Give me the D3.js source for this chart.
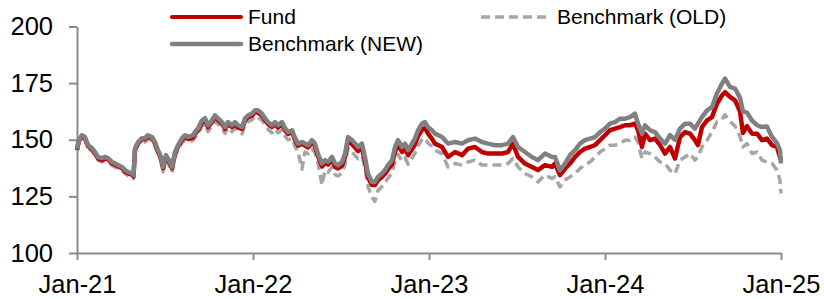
<!DOCTYPE html>
<html><head><meta charset="utf-8">
<script src="https://cdn.jsdelivr.net/npm/d3@7"></script>
<style>
body{margin:0;background:#fff;}
svg{display:block;font-family:"Liberation Sans",Arial,sans-serif;}
</style>
</head><body>
<svg id="c" width="824" height="299"></svg>
<script>
// Time in decimal years
const dates = [
2021.000,2021.011,2021.028,2021.045,2021.063,2021.085,2021.102,2021.119,2021.142,2021.159,
2021.176,2021.199,2021.216,2021.233,2021.256,2021.273,2021.290,2021.313,2021.321,2021.330,
2021.347,2021.369,2021.386,2021.403,2021.426,2021.443,2021.460,2021.477,2021.489,2021.506,
2021.528,2021.540,2021.557,2021.574,2021.597,2021.614,2021.631,2021.659,2021.670,2021.688,
2021.710,2021.727,2021.744,2021.767,2021.784,2021.801,2021.824,2021.841,2021.858,2021.881,
2021.898,2021.915,2021.938,2021.955,2021.972,2021.994,2022.011,2022.028,2022.051,2022.068,
2022.085,2022.108,2022.125,2022.142,2022.165,2022.182,2022.199,2022.222,2022.239,2022.256,
2022.278,2022.295,2022.313,2022.335,2022.352,2022.369,2022.392,2022.409,2022.426,2022.449,
2022.466,2022.483,2022.506,2022.523,2022.540,2022.563,2022.580,2022.597,2022.619,2022.636,
2022.653,2022.676,2022.693,2022.710,2022.733,2022.750,2022.767,2022.790,2022.807,2022.824,
2022.847,2022.864,2022.881,2022.903,2022.920,2022.938,2022.960,2022.977,2022.994,2023.017,
2023.034,2023.074,2023.108,2023.148,2023.188,2023.222,2023.261,2023.301,2023.335,2023.375,
2023.415,2023.449,2023.477,2023.506,2023.545,2023.585,2023.619,2023.659,2023.699,2023.716,
2023.744,2023.773,2023.801,2023.830,2023.858,2023.886,2023.915,2023.943,2023.972,2024.000,
2024.028,2024.057,2024.085,2024.114,2024.142,2024.170,2024.188,2024.210,2024.227,2024.256,
2024.284,2024.313,2024.341,2024.369,2024.398,2024.426,2024.455,2024.483,2024.511,2024.528,
2024.551,2024.580,2024.608,2024.636,2024.665,2024.682,2024.710,2024.739,2024.767,2024.784,
2024.807,2024.835,2024.864,2024.892,2024.920,2024.949,2024.977,2024.994,2025.000
];

const benchNew = [
146.0,150.0,152.0,151.2,147.6,146.3,144.6,142.4,141.9,142.4,
141.9,140.2,139.6,138.8,138.0,136.6,135.8,135.1,134.4,146.3,
149.0,150.7,150.7,152.0,151.2,149.0,145.4,142.4,138.0,143.2,
140.2,138.0,144.6,147.6,150.7,152.0,151.2,152.0,153.4,155.1,
158.6,159.5,156.4,158.6,160.8,159.5,157.8,155.6,157.8,156.4,
157.8,156.4,155.6,159.5,160.8,161.5,163.0,163.0,161.5,159.5,
157.8,156.4,157.8,156.4,157.8,155.1,153.4,154.2,150.7,148.3,
149.0,148.3,147.6,149.8,148.3,143.9,139.5,141.0,140.2,142.4,
139.5,138.8,140.2,143.9,151.2,149.8,148.3,146.8,148.3,142.4,
135.1,131.4,131.4,133.6,135.1,136.6,138.8,141.0,146.8,149.8,
146.8,148.3,145.4,148.3,150.5,154.2,157.1,157.8,155.6,154.2,
152.7,151.2,148.3,149.0,148.3,149.8,150.5,149.0,148.3,147.6,
147.6,148.3,151.2,146.8,144.6,142.4,141.0,143.9,142.4,142.4,
136.6,139.5,143.2,145.4,148.3,149.8,150.5,151.2,153.4,154.9,
157.1,157.8,159.3,159.3,160.0,161.5,157.1,152.7,156.4,154.2,
153.4,150.5,148.3,152.0,150.0,154.9,157.1,157.1,154.9,157.1,
160.0,163.0,164.4,170.4,174.8,177.0,173.3,172.6,168.5,162.5,
162.0,158.5,156.4,155.6,155.8,151.2,148.5,145.4,139.5
];

const fund = [
145.6,149.6,151.5,150.7,147.1,145.8,144.0,141.8,141.0,141.8,
141.3,139.6,139.0,138.2,137.4,136.0,135.2,134.5,133.8,145.8,
148.5,150.2,150.2,151.5,150.6,148.4,144.8,141.8,137.4,142.6,
139.6,137.4,144.0,147.0,150.0,151.3,150.3,151.0,152.6,154.2,
157.6,158.6,155.6,157.8,160.0,158.8,157.0,154.8,157.0,155.6,
157.0,155.4,154.8,158.7,160.0,160.6,162.2,162.0,160.7,158.7,
157.0,155.6,157.0,155.4,157.0,154.2,152.6,153.4,149.8,147.4,
148.2,147.4,146.6,148.8,147.3,142.8,138.2,139.8,139.0,141.2,
138.0,137.3,138.6,142.4,149.8,148.0,146.6,145.0,146.4,140.6,
133.4,130.0,130.0,132.2,133.6,135.0,137.0,139.2,144.8,147.8,
144.6,146.0,143.2,145.8,148.0,151.6,154.4,155.2,152.8,150.4,
148.3,146.8,142.4,144.6,143.2,146.1,146.8,144.6,143.9,143.9,
143.9,144.6,148.3,142.4,139.5,138.0,136.6,138.8,138.0,139.5,
134.4,137.3,139.5,142.4,144.6,146.1,146.8,147.6,149.8,152.0,
154.2,154.9,155.6,156.4,156.4,157.1,154.2,146.8,152.7,149.8,
150.5,147.6,143.9,146.8,141.7,151.2,153.4,152.7,149.8,147.6,
155.6,158.6,160.0,165.9,169.6,171.0,168.9,167.4,162.5,153.0,
156.0,152.7,152.7,149.8,150.5,147.6,146.8,142.4,141.0
];

const benchOld = [
145.2,149.2,151.0,150.0,146.4,145.0,143.3,141.0,140.2,140.8,
140.3,138.6,138.0,137.2,136.4,135.0,134.2,133.5,132.8,145.0,
147.6,149.2,149.0,150.4,149.4,147.2,143.6,140.5,135.8,141.2,
138.0,135.6,142.6,145.6,148.6,150.0,149.0,149.6,151.0,152.6,
156.0,157.0,153.6,156.0,158.2,157.0,155.0,152.8,155.2,153.6,
155.0,153.4,152.6,156.8,158.0,158.8,160.4,160.0,158.6,156.4,
154.6,153.0,154.8,153.0,154.4,151.6,150.0,150.6,147.0,144.6,
137.0,144.6,143.8,146.0,144.4,139.8,130.0,136.4,135.6,138.0,
134.6,134.0,135.4,139.2,146.4,144.6,143.0,141.6,142.8,137.2,
129.4,124.6,122.8,127.6,129.4,131.0,133.0,135.2,140.8,143.6,
140.6,142.0,139.2,141.8,144.0,147.4,150.0,150.8,148.6,147.0,
145.4,143.9,138.0,139.5,138.8,140.2,141.0,138.8,138.8,138.8,
138.8,139.5,141.7,138.0,135.1,133.6,131.4,134.4,132.9,133.6,
129.2,132.2,133.6,135.1,137.3,138.8,140.2,142.4,144.6,146.1,
147.6,147.6,148.3,149.8,149.8,151.2,149.0,141.7,144.6,143.9,
142.4,140.2,139.5,136.6,135.0,141.0,142.4,143.9,141.0,142.4,
146.8,149.8,153.4,158.0,159.0,161.0,158.0,156.0,151.5,146.8,
148.3,143.9,144.6,141.0,140.2,139.5,136.6,132.2,126.3
];

const yTicks = [100, 125, 150, 175, 200];
const xTickValues = [2021, 2022, 2023, 2024, 2025];
const xTickLabels = ["Jan-21", "Jan-22", "Jan-23", "Jan-24", "Jan-25"];
const seriesNames = ["Fund", "Benchmark (OLD)", "Benchmark (NEW)"];

const svg = d3.select("#c");
const x = d3.scaleLinear().domain([2021, 2025]).range([77, 781]);
const y = d3.scaleLinear().domain([100, 200]).range([253, 26.5]);
const axisColor = "#8a8a8a";

// Y axis
const gy = svg.append("g").attr("transform", "translate(77,0)")
  .call(d3.axisLeft(y).tickValues(yTicks).tickSize(8).tickSizeOuter(0).tickPadding(16));
gy.select(".domain").attr("stroke", axisColor).attr("stroke-width", 2);
gy.selectAll(".tick line").attr("stroke", axisColor).attr("stroke-width", 2);
gy.selectAll(".tick text").attr("fill", "#000").style("font-size", "25.5px")
  .style("font-family", '"Liberation Sans", Arial, sans-serif');

// X axis
const gx = svg.append("g").attr("transform", "translate(0,253)")
  .call(d3.axisBottom(x).tickValues(xTickValues).tickSize(7).tickSizeOuter(0).tickPadding(15)
    .tickFormat((d, i) => xTickLabels[i]));
gx.select(".domain").attr("stroke", axisColor).attr("stroke-width", 2);
gx.selectAll(".tick line").attr("stroke", axisColor).attr("stroke-width", 2);
gx.selectAll(".tick text").attr("fill", "#000").style("font-size", "25.5px")
  .style("font-family", '"Liberation Sans", Arial, sans-serif');

const line = d3.line().x((d, i) => x(dates[i])).y(d => y(d));

svg.append("path").datum(benchOld).attr("d", line)
  .attr("fill", "none").attr("stroke", "#a6a6a6").attr("stroke-width", 3.5)
  .attr("stroke-dasharray", "9,5").attr("stroke-linejoin", "round");
svg.append("path").datum(fund).attr("d", line)
  .attr("fill", "none").attr("stroke", "#c00000").attr("stroke-width", 4.5)
  .attr("stroke-linejoin", "round");
svg.append("path").datum(benchNew).attr("d", line)
  .attr("fill", "none").attr("stroke", "#808080").attr("stroke-width", 4.5)
  .attr("stroke-linejoin", "round");

// Legend
const legend = [
  {name: seriesNames[0], x1: 172, x2: 241, y: 17, tx: 248, ty: 24, color: "#c00000", w: 4, dash: null},
  {name: seriesNames[2], x1: 172, x2: 241, y: 44, tx: 248, ty: 51, color: "#808080", w: 4.5, dash: null},
  {name: seriesNames[1], x1: 481, x2: 548, y: 17, tx: 557, ty: 24, color: "#a6a6a6", w: 3.5, dash: "9,5"}
];
const lg = svg.append("g");
legend.forEach(l => {
  lg.append("line").attr("x1", l.x1).attr("x2", l.x2).attr("y1", l.y).attr("y2", l.y)
    .attr("stroke", l.color).attr("stroke-width", l.w).attr("stroke-linecap", l.dash ? "butt" : "round")
    .attr("stroke-dasharray", l.dash);
  lg.append("text").attr("x", l.tx).attr("y", l.ty).text(l.name)
    .style("font-size", "21px").attr("fill", "#000");
});
</script>
</body></html>
